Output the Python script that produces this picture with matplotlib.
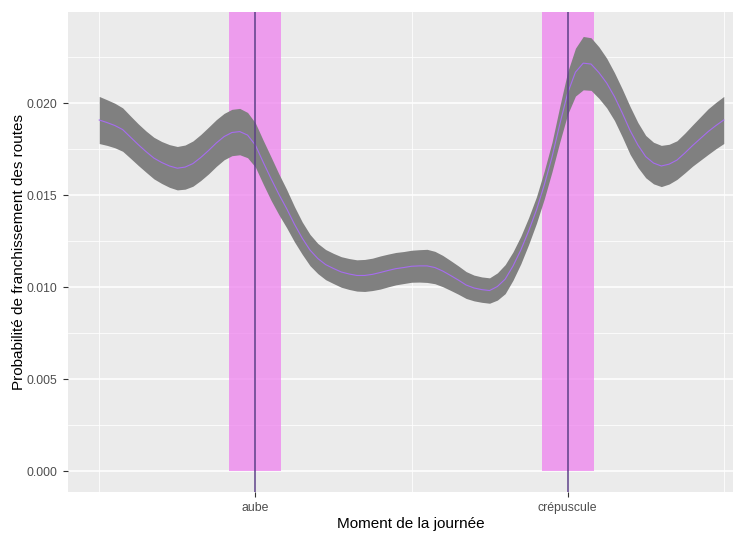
import numpy as np
import matplotlib.pyplot as plt

plt.rcParams['font.family'] = ['Liberation Sans', 'DejaVu Sans']

# heure de la journée (0-24 h), pas de 0.3 h
heures = np.linspace(0, 24, 81)
proba = [0.01908, 0.01894, 0.01878, 0.01856, 0.01815, 0.01774, 0.01736, 0.01701,
         0.01677, 0.01658, 0.01646, 0.01652, 0.01671, 0.01704, 0.01742, 0.01783,
         0.01818, 0.01840, 0.01845, 0.01826, 0.01772, 0.01679, 0.01590, 0.01505,
         0.01427, 0.01342, 0.01266, 0.01201, 0.01155, 0.01122, 0.01101, 0.01082,
         0.01071, 0.01063, 0.01063, 0.01069, 0.01079, 0.01090, 0.01100, 0.01106,
         0.01113, 0.01115, 0.01115, 0.01106, 0.01087, 0.01063, 0.01038, 0.01011,
         0.00995, 0.00986, 0.00981, 0.01003, 0.01043, 0.01114, 0.01201, 0.01304,
         0.01418, 0.01554, 0.01707, 0.01886, 0.02054, 0.02168, 0.02217, 0.02212,
         0.02166, 0.02109, 0.02035, 0.01946, 0.01851, 0.01772, 0.01709, 0.01674,
         0.01658, 0.01668, 0.01690, 0.01728, 0.01769, 0.01807, 0.01845, 0.01878,
         0.01908]
# demi-largeur de l'intervalle de confiance
ic = [0.00128, 0.00124, 0.00121, 0.00118, 0.00115, 0.00113, 0.00112, 0.00113,
      0.00114, 0.00116, 0.00118, 0.00120, 0.00123, 0.00125, 0.00127, 0.00127,
      0.00126, 0.00126, 0.00126, 0.00123, 0.00120, 0.00119, 0.00118, 0.00111,
      0.00104, 0.00096, 0.00088, 0.00085, 0.00082, 0.00082, 0.00082, 0.00083,
      0.00084, 0.00085, 0.00087, 0.00088, 0.00090, 0.00089, 0.00088, 0.00087,
      0.00087, 0.00088, 0.00090, 0.00088, 0.00085, 0.00081, 0.00077, 0.00073,
      0.00070, 0.00069, 0.00069, 0.00074, 0.00079, 0.00077, 0.00075, 0.00073,
      0.00072, 0.00076, 0.00080, 0.00097, 0.00115, 0.00130, 0.00145, 0.00143,
      0.00140, 0.00135, 0.00130, 0.00130, 0.00130, 0.00122, 0.00115, 0.00113,
      0.00112, 0.00108, 0.00105, 0.00108, 0.00112, 0.00118, 0.00124, 0.00126,
      0.00128]

moments = ['aube', 'crépuscule']
heures_moments = [6, 18]
demi_fenetre = 1  # +/- 1 h autour de l'aube et du crépuscule

proba = np.array(proba)
ic = np.array(ic)

fig = plt.figure(figsize=(7.33, 5.34), dpi=100)
ax = fig.add_axes([68 / 733, 42 / 534, 687 / 733, 480 / 534])
ax.set_facecolor('#EBEBEB')
for s in ax.spines.values():
    s.set_visible(False)

ax.set_xlim(-1.2, 25.2)
ax.set_ylim(-0.00114, 0.02495)

# grille façon ggplot
ax.set_yticks([0, 0.005, 0.010, 0.015, 0.020])
ax.set_yticks([0.0025, 0.0075, 0.0125, 0.0175, 0.0225], minor=True)
ax.set_xticks(heures_moments)
ax.set_xticklabels(moments)
ax.set_xticks([0, 12, 24], minor=True)
ax.grid(which='major', color='white', lw=1.1)
ax.grid(which='minor', color='white', lw=0.55)
ax.set_axisbelow(True)

ax.tick_params(which='major', length=3.5, width=0.8, color='#333333',
               labelsize=8.8, labelcolor='#4D4D4D', pad=4)
ax.tick_params(which='minor', length=0)

# fenêtres aube / crépuscule
for h in heures_moments:
    ax.fill_between([h - demi_fenetre, h + demi_fenetre], 0, 1,
                    color='violet', alpha=0.75, lw=0, zorder=1)

ax.fill_between(heures, proba - ic, proba + ic, color='#808080', lw=0, zorder=2)
ax.plot(heures, proba, color='#A66CF0', lw=0.8, zorder=3)

for h in heures_moments:
    ax.axvline(h, color='#5B3F86', lw=1.1, zorder=4)

ax.set_ylabel('Probabilité de franchissement des routes', fontsize=11)
ax.yaxis.set_label_coords(-0.061, 0.5, transform=ax.transAxes)
ax.set_xlabel('Moment de la journée', fontsize=11)
ax.xaxis.set_label_coords((411 - 68) / 687, -0.052, transform=ax.transAxes)

fig.savefig('out.png', dpi=100)
